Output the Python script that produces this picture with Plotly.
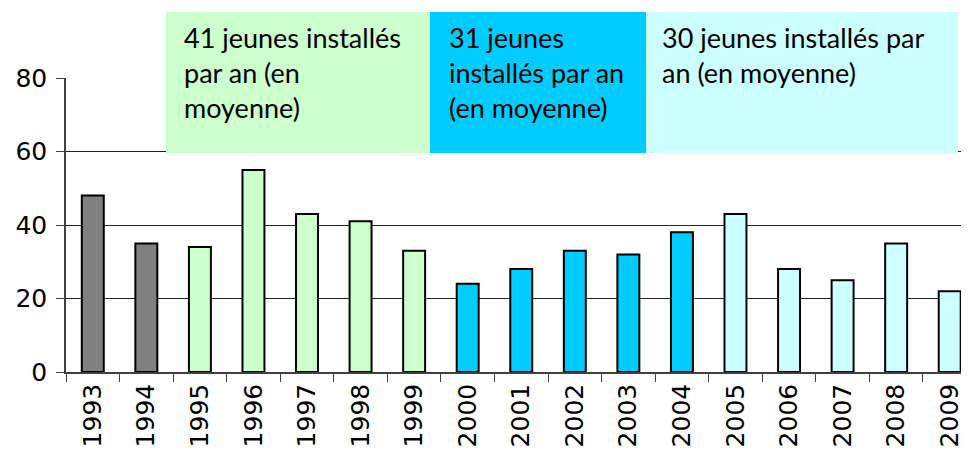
import plotly.graph_objects as go

years = ["1993", "1994", "1995", "1996", "1997", "1998", "1999", "2000", "2001",
         "2002", "2003", "2004", "2005", "2006", "2007", "2008", "2009"]
installs = [48, 35, 34, 55, 43, 41, 33, 24, 28, 33, 32, 38, 43, 28, 25, 35, 22]
period_colors = ["#808080"] * 2 + ["#ccffcc"] * 5 + ["#00ccff"] * 5 + ["#ccffff"] * 5

box_texts = [
    "41 jeunes installés<br>par an (en<br>moyenne)",
    "31 jeunes<br>installés par an<br>(en moyenne)",
    "30 jeunes installés par<br>an (en moyenne)",
]
box_colors = ["#ccffcc", "#00ccff", "#ccffff"]

# page body has an 8px margin, so the figure sits at (8, 8) in the window
OFF = 8
FW, FH = 969 - OFF, 450 - OFF
# plot area in window pixels: x 66..969, y 78..372
L, R, T, B = 66, 969, 78, 372
W, H = R - L, B - T

def px(x):
    return (x - L) / W

def py(y):
    return (B - y) / H

fig = go.Figure(go.Bar(
    x=years, y=installs,
    marker=dict(color=period_colors, line=dict(color="black", width=2)),
    width=0.41,
))

box_x = [(166, 430), (430, 646), (646, 958)]
text_x = [182, 447, 660]
shapes = []
annotations = []
for (x0, x1), tx, txt, col in zip(box_x, text_x, box_texts, box_colors):
    shapes.append(dict(type="rect", xref="paper", yref="paper",
                       x0=px(x0), x1=px(x1), y0=py(153), y1=py(12),
                       fillcolor=col, line=dict(width=0), layer="above"))
    annotations.append(dict(xref="paper", yref="paper", x=px(tx), y=py(19),
                            xanchor="left", yanchor="top", align="left",
                            text=txt, showarrow=False,
                            font=dict(family="Lato", size=27, color="black")))

fig.update_layout(
    width=FW, height=FH,
    margin=dict(l=L - OFF, r=0, t=T - OFF, b=FH - (B - OFF)),
    plot_bgcolor="white", paper_bgcolor="white",
    showlegend=False,
    font=dict(family="DejaVu Sans", size=25, color="black"),
    shapes=shapes,
    annotations=annotations,
    xaxis=dict(
        range=[-0.5, 16.36], tickangle=-90, tickson="boundaries",
        ticks="outside", ticklen=8, tickcolor="#404040",
        showline=True, linecolor="#404040", linewidth=1.5,
        showgrid=False, fixedrange=True, automargin=False,
    ),
    yaxis=dict(
        range=[0, 80], tickvals=[0, 20, 40, 60, 80],
        ticks="outside", ticklen=8, tickcolor="#404040", ticklabelstandoff=4,
        showline=True, linecolor="#404040", linewidth=1.5,
        showgrid=True, gridcolor="#222222", gridwidth=1,
        zeroline=False, automargin=False,
    ),
)

fig.write_html("out.html")
